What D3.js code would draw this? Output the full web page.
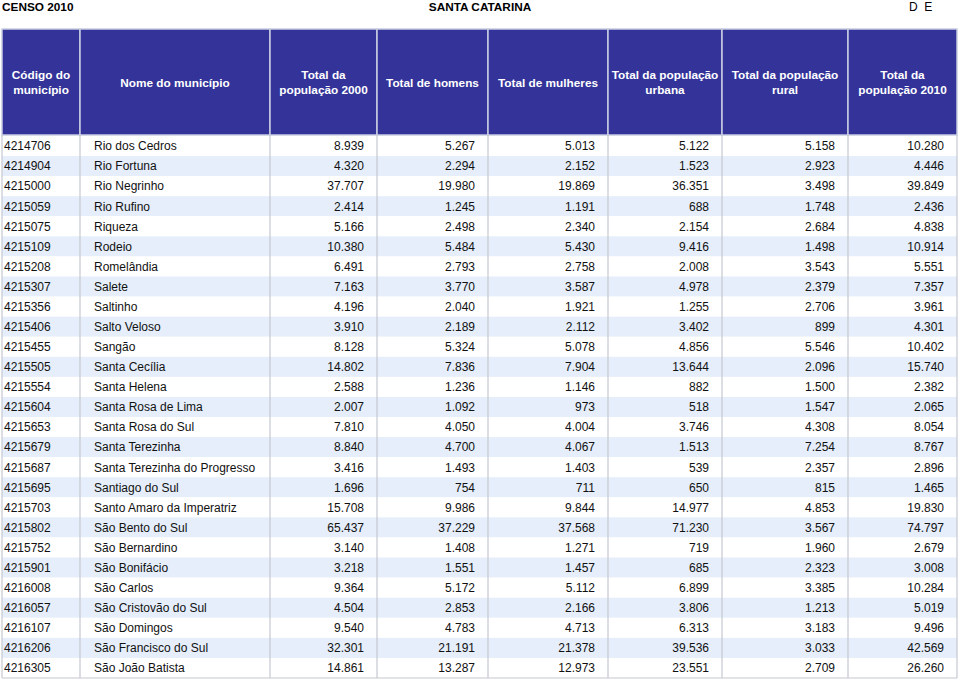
<!DOCTYPE html>
<html><head><meta charset="utf-8">
<script src="https://cdn.jsdelivr.net/npm/d3@7"></script>
<style>body{margin:0;background:#fff;font-family:"Liberation Sans",Arial,sans-serif;}</style>
</head><body><svg id="c" width="960" height="681"></svg>
<script>
const headers = [["Código do","município"],["Nome do município"],["Total da","população 2000"],["Total de homens"],["Total de mulheres"],["Total da população","urbana"],["Total da população","rural"],["Total da","população 2010"]];
const codes = ["4214706","4214904","4215000","4215059","4215075","4215109","4215208","4215307","4215356","4215406","4215455","4215505","4215554","4215604","4215653","4215679","4215687","4215695","4215703","4215802","4215752","4215901","4216008","4216057","4216107","4216206","4216305"];
const names = ["Rio dos Cedros","Rio Fortuna","Rio Negrinho","Rio Rufino","Riqueza","Rodeio","Romelândia","Salete","Saltinho","Salto Veloso","Sangão","Santa Cecília","Santa Helena","Santa Rosa de Lima","Santa Rosa do Sul","Santa Terezinha","Santa Terezinha do Progresso","Santiago do Sul","Santo Amaro da Imperatriz","São Bento do Sul","São Bernardino","São Bonifácio","São Carlos","São Cristovão do Sul","São Domingos","São Francisco do Sul","São João Batista"];
const pop2000 = [8939,4320,37707,2414,5166,10380,6491,7163,4196,3910,8128,14802,2588,2007,7810,8840,3416,1696,15708,65437,3140,3218,9364,4504,9540,32301,14861];
const homens = [5267,2294,19980,1245,2498,5484,2793,3770,2040,2189,5324,7836,1236,1092,4050,4700,1493,754,9986,37229,1408,1551,5172,2853,4783,21191,13287];
const mulheres = [5013,2152,19869,1191,2340,5430,2758,3587,1921,2112,5078,7904,1146,973,4004,4067,1403,711,9844,37568,1271,1457,5112,2166,4713,21378,12973];
const urbana = [5122,1523,36351,688,2154,9416,2008,4978,1255,3402,4856,13644,882,518,3746,1513,539,650,14977,71230,719,685,6899,3806,6313,39536,23551];
const rural = [5158,2923,3498,1748,2684,1498,3543,2379,2706,899,5546,2096,1500,1547,4308,7254,2357,815,4853,3567,1960,2323,3385,1213,3183,3033,2709];
const pop2010 = [10280,4446,39849,2436,4838,10914,5551,7357,3961,4301,10402,15740,2382,2065,8054,8767,2896,1465,19830,74797,2679,3008,10284,5019,9496,42569,26260];

const loc = d3.formatLocale({decimal:",",thousands:".",grouping:[3],currency:["R$",""]});
const fmt = loc.format(",d");
const numCols = [pop2000,homens,mulheres,urbana,rural,pop2010];

const svg = d3.select("#c");
const colEdges = [2,80,270,377,488,608,722,848,957];
const x = d3.scaleOrdinal().domain(d3.range(8)).range(colEdges.slice(0,8));
const w = i => colEdges[i+1]-colEdges[i];
const y = d3.scaleBand().domain(d3.range(codes.length)).range([136,678]);
const hTop = 29, hBot = 135;

// titles
svg.append("text").attr("x",2).attr("y",11).attr("font-size",11.8).attr("font-weight","bold").text("CENSO 2010");
svg.append("text").attr("x",480).attr("y",11).attr("text-anchor","middle").attr("font-size",11.8).attr("font-weight","bold").text("SANTA CATARINA");
svg.append("text").attr("x",909).attr("y",11).attr("font-size",12).attr("xml:space","preserve").text("D  E");

// header
const hg = svg.append("g");
hg.selectAll("rect").data(headers).join("rect")
  .attr("x",(d,i)=>x(i)).attr("y",hTop).attr("width",(d,i)=>w(i)).attr("height",hBot-hTop)
  .attr("fill","#333399").attr("stroke","#c9cde0").attr("stroke-width",1.5);
hg.selectAll("text").data(headers).join("text")
  .attr("x",(d,i)=>x(i)+w(i)/2)
  .attr("y",d=> d.length===1 ? 86.5 : 79)
  .attr("text-anchor","middle").attr("fill","#fff").attr("font-weight","bold").attr("font-size",11.8)
  .each(function(d){
    const t=d3.select(this);
    d.forEach((line,k)=>t.append("tspan").attr("x",t.attr("x")).attr("dy",k?15:0).text(line));
  });

// rows
const rg = svg.append("g");
rg.selectAll("rect").data(codes).join("rect")
  .attr("x",2).attr("y",(d,i)=>y(i)).attr("width",955).attr("height",y.bandwidth())
  .attr("fill",(d,i)=> i%2 ? "#e5eefa" : "#ffffff");

// column lines
svg.append("g").selectAll("line").data(colEdges).join("line")
  .attr("x1",d=>d).attr("x2",d=>d).attr("y1",hBot).attr("y2",678)
  .attr("stroke","#c4c8d0").attr("stroke-width",1.2);
svg.append("line").attr("x1",2).attr("x2",957).attr("y1",678).attr("y2",678).attr("stroke","#c4c8d0").attr("stroke-width",1.2);

const tg = svg.append("g").attr("font-size",12).attr("fill","#111");
const mid = i => y(i)+y.bandwidth()/2+4.3;
tg.selectAll("text.code").data(codes).join("text").attr("class","code")
  .attr("x",4).attr("y",(d,i)=>mid(i)).text(d=>d);
tg.selectAll("text.name").data(names).join("text").attr("class","name")
  .attr("x",94).attr("y",(d,i)=>mid(i)).text(d=>d);
numCols.forEach((col,c)=>{
  const ci=c+2;
  tg.append("g").selectAll("text").data(col).join("text")
    .attr("x",colEdges[ci+1]-13).attr("y",(d,i)=>mid(i)).attr("text-anchor","end").text(d=>fmt(d));
});
</script></body></html>
